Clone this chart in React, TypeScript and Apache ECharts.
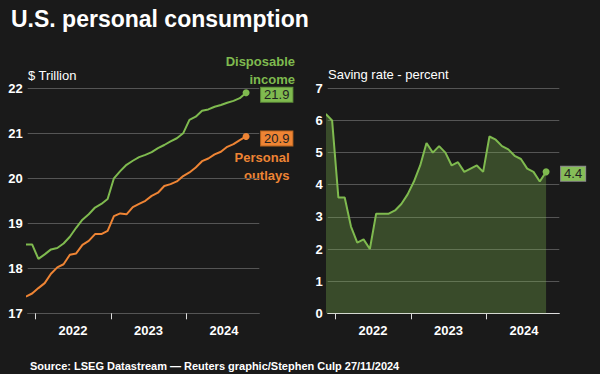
import React, { useEffect, useRef } from "react";
import * as echarts from "echarts";

const months: string[] = [
  "2021-11", "2021-12",
  "2022-01", "2022-02", "2022-03", "2022-04", "2022-05", "2022-06",
  "2022-07", "2022-08", "2022-09", "2022-10", "2022-11", "2022-12",
  "2023-01", "2023-02", "2023-03", "2023-04", "2023-05", "2023-06",
  "2023-07", "2023-08", "2023-09", "2023-10", "2023-11", "2023-12",
  "2024-01", "2024-02", "2024-03", "2024-04", "2024-05", "2024-06",
  "2024-07", "2024-08", "2024-09", "2024-10",
];

// $ trillion
const disposableIncome: number[] = [
  18.53, 18.53,
  18.21, 18.31, 18.42, 18.45, 18.55, 18.70, 18.90, 19.08, 19.20, 19.35, 19.43, 19.54,
  20.00, 20.16, 20.30, 20.39, 20.47, 20.52, 20.58, 20.67, 20.74, 20.82, 20.89, 21.00,
  21.30, 21.37, 21.50, 21.53, 21.59, 21.63, 21.68, 21.72, 21.78, 21.90,
];

const personalOutlays: number[] = [
  17.37, 17.44,
  17.56, 17.67, 17.88, 18.02, 18.09, 18.30, 18.33, 18.52, 18.61, 18.76, 18.76, 18.83,
  19.16, 19.22, 19.20, 19.36, 19.43, 19.50, 19.61, 19.68, 19.83, 19.87, 19.93, 20.05,
  20.13, 20.24, 20.38, 20.44, 20.53, 20.59, 20.70, 20.76, 20.85, 20.93,
];

// percent
const savingRate: number[] = [
  6.2, 6.0,
  3.6, 3.6, 2.7, 2.2, 2.3, 2.0, 3.1, 3.1, 3.1, 3.2, 3.4, 3.7,
  4.1, 4.6, 5.3, 5.0, 5.2, 5.0, 4.6, 4.7, 4.4, 4.5, 4.6, 4.4,
  5.5, 5.4, 5.2, 5.1, 4.9, 4.8, 4.5, 4.4, 4.1, 4.4,
];

const yearLabels: string[] = ["2022", "2023", "2024"];

const FONT = '"Liberation Sans", Arial, sans-serif';
const GREEN = "#7fba4f";
const ORANGE = "#ee8434";
const BG = "#1a1a1a";
const GRID = "#555555";

// month position: months since Jan 1 2022, at mid-month
const monthPos = (s: string) => {
  const [y, m] = s.split("-").map(Number);
  return (y - 2022) * 12 + (m - 1) + 0.5;
};
const yearTicks = yearLabels.map((y) => (Number(y) - 2022) * 12);
const yearMids = yearLabels.map((y) => (Number(y) - 2022) * 12 + 6);

const toPairs = (vals: number[]) => vals.map((v, i) => [monthPos(months[i]), v]);

export default function App() {
  const ref = useRef<HTMLDivElement>(null);
  useEffect(() => {
    if (!ref.current) return;
    const chart = echarts.init(ref.current, undefined, { renderer: "svg" });
    const last = months.length - 1;
    const xAxisBase = (gridIndex: number, lineColor: string) => ({
      type: "value",
      gridIndex,
      min: -1.2,
      max: 35.6,
      splitLine: { show: false },
      axisLine: { show: true, lineStyle: { color: lineColor, width: 1 } },
      axisTick: {
        show: true,
        customValues: yearTicks,
        length: 6,
        lineStyle: { color: "#dddddd", width: 1 },
      },
      axisLabel: {
        show: true,
        customValues: yearMids,
        formatter: (v: number) => yearLabels[Math.round((v - 6) / 12)] ?? "",
        color: "#ffffff",
        fontFamily: FONT,
        fontWeight: "bold",
        fontSize: 13,
        margin: 11,
      },
    });
    const yAxisBase = (gridIndex: number, min: number, max: number) => ({
      type: "value",
      gridIndex,
      min,
      max,
      interval: 1,
      axisLine: { show: false },
      axisTick: { show: false },
      splitLine: { show: true, lineStyle: { color: GRID, width: 1 } },
      axisLabel: {
        color: "#ffffff",
        fontFamily: FONT,
        fontWeight: "bold",
        fontSize: 13,
        margin: 5,
      },
    });
    const endLabel = (bg: string, border: string) => ({
      show: true,
      formatter: (p: any) => Number(p.value[1]).toFixed(1),
      color: "#222222",
      fontFamily: FONT,
      fontSize: 13,
      lineHeight: 13,
      backgroundColor: bg,
      borderColor: border,
      borderWidth: 1,
      padding: [1, 3, 0, 3],
      distance: 15,
      offset: [0, 2],
    });
    const symbolSize = (_v: any, params: any) => (params.dataIndex === last ? 7 : 0);

    chart.setOption({
      animation: false,
      backgroundColor: BG,
      grid: [
        { left: 27.7, top: 88.3, width: 231.6, height: 225 },
        { left: 327.7, top: 88.3, width: 231.6, height: 225 },
      ],
      xAxis: [xAxisBase(0, GRID), xAxisBase(1, "#dddddd")],
      yAxis: [yAxisBase(0, 17, 22), yAxisBase(1, 0, 7)],
      series: [
        {
          type: "line",
          name: "Disposable income",
          xAxisIndex: 0,
          yAxisIndex: 0,
          data: toPairs(disposableIncome),
          lineStyle: { color: GREEN, width: 2 },
          itemStyle: { color: GREEN },
          symbol: "circle",
          showSymbol: true,
          symbolSize,
          endLabel: endLabel("#7fba4f", "#5e8f38"),
          clip: true,
        },
        {
          type: "line",
          name: "Personal outlays",
          xAxisIndex: 0,
          yAxisIndex: 0,
          data: toPairs(personalOutlays),
          lineStyle: { color: ORANGE, width: 2 },
          itemStyle: { color: ORANGE },
          symbol: "circle",
          showSymbol: true,
          symbolSize,
          endLabel: endLabel("#ee8434", "#b8641f"),
          clip: true,
        },
        {
          type: "line",
          name: "Saving rate",
          xAxisIndex: 1,
          yAxisIndex: 1,
          data: toPairs(savingRate),
          lineStyle: { color: GREEN, width: 2 },
          itemStyle: { color: GREEN },
          areaStyle: { color: "rgba(127,186,79,0.45)" },
          symbol: "circle",
          showSymbol: true,
          symbolSize,
          endLabel: endLabel("#86bd58", "#8a8a8a"),
          clip: true,
        },
      ],
      graphic: [
        {
          type: "text",
          x: 11,
          y: 19,
          style: {
            text: "U.S. personal consumption",
            fill: "#ffffff",
            font: `bold 23px ${FONT}`,
            align: "left",
            textAlign: "left",
            verticalAlign: "middle",
            textVerticalAlign: "middle",
          },
        },
        {
          type: "text",
          x: 28,
          y: 75,
          style: {
            text: "$ Trillion",
            fill: "#ffffff",
            font: `13px ${FONT}`,
            align: "left",
            textAlign: "left",
            verticalAlign: "middle",
            textVerticalAlign: "middle",
          },
        },
        {
          type: "text",
          x: 328,
          y: 74,
          style: {
            text: "Saving rate - percent",
            fill: "#ffffff",
            font: `13px ${FONT}`,
            align: "left",
            textAlign: "left",
            verticalAlign: "middle",
            textVerticalAlign: "middle",
          },
        },
        {
          type: "text",
          x: 295,
          y: 70,
          style: {
            text: "Disposable\nincome",
            fill: GREEN,
            font: `bold 13px ${FONT}`,
            lineHeight: 18,
            align: "right",
            textAlign: "right",
            verticalAlign: "middle",
            textVerticalAlign: "middle",
          },
        },
        {
          type: "text",
          x: 289.5,
          y: 166,
          style: {
            text: "Personal\noutlays",
            fill: ORANGE,
            font: `bold 13px ${FONT}`,
            lineHeight: 18,
            align: "right",
            textAlign: "right",
            verticalAlign: "middle",
            textVerticalAlign: "middle",
          },
        },
        {
          type: "text",
          x: 30,
          y: 366,
          style: {
            text: "Source: LSEG Datastream \u2014 Reuters graphic/Stephen Culp 27/11/2024",
            fill: "#ffffff",
            font: `bold 11px ${FONT}`,
            align: "left",
            textAlign: "left",
            verticalAlign: "middle",
            textVerticalAlign: "middle",
          },
        },
      ],
    });
    return () => chart.dispose();
  }, []);
  return (
    <div
      ref={ref}
      style={{ position: "fixed", left: 0, top: 0, width: 600, height: 374 }}
    />
  );
}
